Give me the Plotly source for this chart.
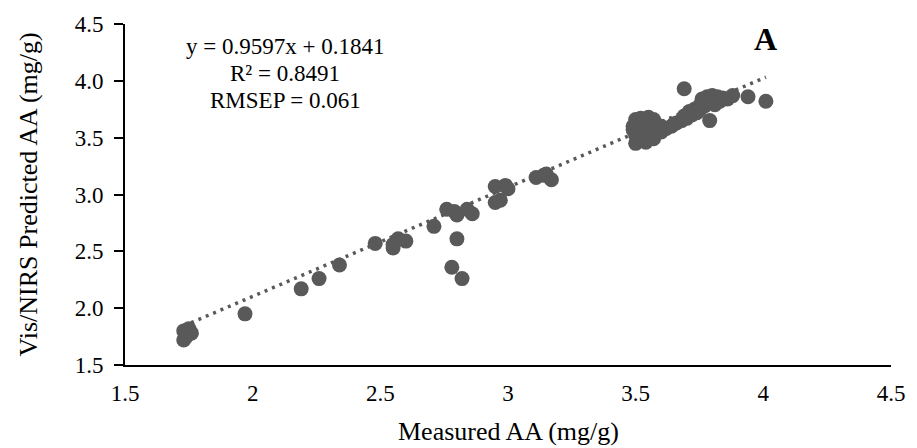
import plotly.graph_objects as go

# Measured vs predicted AA (mg/g)
measured = [
    1.73, 1.74, 1.75, 1.73, 1.76,
    1.97, 2.19, 2.26, 2.34,
    2.48, 2.55, 2.60, 2.57, 2.55,
    2.71, 2.76, 2.79, 2.84, 2.86, 2.80,
    2.80, 2.78, 2.82,
    2.95, 2.97, 2.95, 3.00, 2.99,
    3.11, 3.15, 3.17, 3.14,
    3.50, 3.52, 3.55, 3.57, 3.58, 3.50, 3.53, 3.56, 3.49, 3.52, 3.55, 3.58,
    3.50, 3.53, 3.56, 3.51, 3.50, 3.54, 3.57, 3.60, 3.60, 3.52, 3.49,
    3.62, 3.64, 3.66, 3.68, 3.70, 3.72, 3.65, 3.69, 3.71, 3.73, 3.75, 3.77, 3.74,
    3.76, 3.78, 3.80, 3.82, 3.84, 3.79, 3.83, 3.77, 3.81, 3.75, 3.86,
    3.69, 3.79, 3.88, 3.94, 4.01,
]
predicted = [
    1.80, 1.75, 1.82, 1.72, 1.78,
    1.95, 2.17, 2.26, 2.38,
    2.57, 2.53, 2.59, 2.61, 2.56,
    2.72, 2.87, 2.85, 2.87, 2.83, 2.82,
    2.61, 2.36, 2.26,
    2.93, 2.95, 3.07, 3.05, 3.08,
    3.15, 3.18, 3.13, 3.17,
    3.66, 3.67, 3.68, 3.66, 3.62, 3.62, 3.63, 3.60, 3.57, 3.58, 3.55, 3.57,
    3.52, 3.50, 3.52, 3.47, 3.45, 3.46, 3.49, 3.55, 3.60, 3.54, 3.60,
    3.58, 3.60, 3.63, 3.65, 3.67, 3.70, 3.62, 3.69, 3.73, 3.75, 3.78, 3.80, 3.72,
    3.84, 3.86, 3.87, 3.86, 3.85, 3.82, 3.82, 3.78, 3.79, 3.74, 3.84,
    3.93, 3.65, 3.87, 3.86, 3.82,
]

slope = 0.9597
intercept = 0.1841
trend_x = [min(measured), max(measured)]
trend_y = [slope * v + intercept for v in trend_x]

x_ticks = [1.5, 2, 2.5, 3, 3.5, 4, 4.5]
x_tick_text = ["1.5", "2", "2.5", "3", "3.5", "4", "4.5"]
y_ticks = [1.5, 2.0, 2.5, 3.0, 3.5, 4.0, 4.5]
y_tick_text = ["1.5", "2.0", "2.5", "3.0", "3.5", "4.0", "4.5"]

stats_lines = ["y = 0.9597x + 0.1841", "R² = 0.8491", "RMSEP = 0.061"]
panel_label = "A"
x_title = "Measured AA (mg/g)"
y_title = "Vis/NIRS Predicted AA (mg/g)"

FONT = "Liberation Serif, Times New Roman, serif"
GREY = "#595959"

# plot-area geometry in pixels (for placing text)
L, R, T, B = 125, 903, 20, 365
W, H = R - L, B - T


def px(x):
    return (x - L) / W


def py(y):
    return (B - y) / H


fig = go.Figure()
fig.add_trace(go.Scatter(
    x=trend_x, y=trend_y, mode="lines",
    line=dict(color=GREY, width=3.5, dash="3px,5px"),
    hoverinfo="skip", showlegend=False,
))
fig.add_trace(go.Scatter(
    x=measured, y=predicted, mode="markers",
    marker=dict(color=GREY, size=15, line=dict(width=0)),
    showlegend=False,
))

annotations = []
for i, line in enumerate(stats_lines):
    annotations.append(dict(
        text=line, xref="paper", yref="paper",
        x=px(288), y=py(43 + 27 * i), xanchor="center", yanchor="middle",
        showarrow=False, font=dict(family=FONT, size=23, color="black")))
annotations.append(dict(
    text="<b>" + panel_label + "</b>", xref="paper", yref="paper",
    x=px(776), y=py(35), xanchor="center", yanchor="middle",
    showarrow=False, font=dict(family=FONT, size=32, color="black")))
annotations.append(dict(
    text=x_title, xref="paper", yref="paper",
    x=px(514), y=py(432), xanchor="center", yanchor="middle",
    showarrow=False, font=dict(family=FONT, size=26, color="black")))
annotations.append(dict(
    text=y_title, xref="paper", yref="paper", textangle=-90,
    x=px(27), y=py(193), xanchor="center", yanchor="middle",
    showarrow=False, font=dict(family=FONT, size=26, color="black")))

fig.update_layout(
    width=917, height=448,
    margin=dict(l=L, r=917 - R, t=T, b=448 - B),
    paper_bgcolor="white", plot_bgcolor="white",
    font=dict(family=FONT, color="black", size=23),
    xaxis=dict(
        range=[1.5, 4.5], tickvals=x_ticks, ticktext=x_tick_text,
        showgrid=False, zeroline=False, showline=True,
        linecolor="black", linewidth=2, ticks="",
        ticklabelstandoff=6, ticklabeloverflow="allow",
        tickfont=dict(family=FONT, size=23),
    ),
    yaxis=dict(
        range=[1.5, 4.5], tickvals=y_ticks, ticktext=y_tick_text,
        showgrid=False, zeroline=False, showline=True,
        linecolor="black", linewidth=2, ticks="outside",
        ticklen=9, tickwidth=2, tickcolor="black",
        ticklabelstandoff=6,
        tickfont=dict(family=FONT, size=23),
    ),
    annotations=annotations,
)

fig.write_html("out.html")
